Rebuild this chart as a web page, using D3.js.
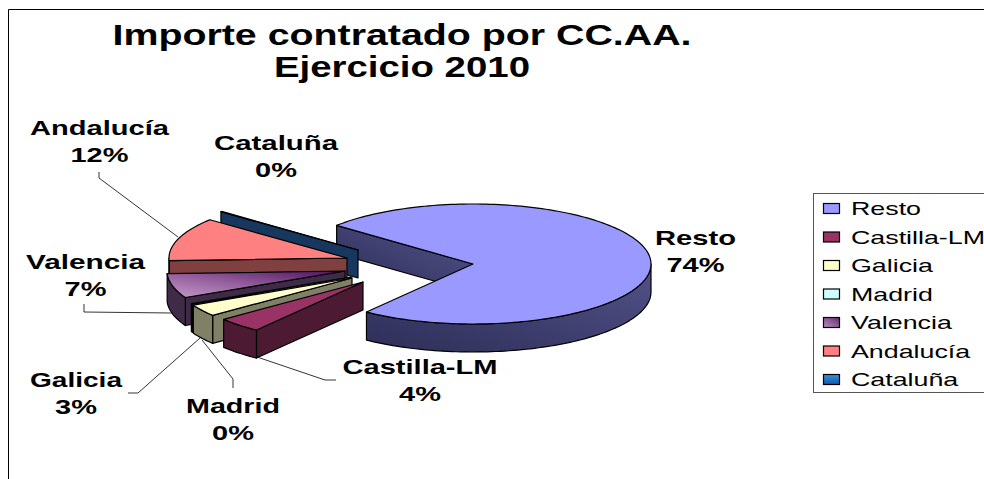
<!DOCTYPE html>
<html><head><meta charset="utf-8">
<script src="https://d3js.org/d3.v7.min.js"></script>
<style>html,body{margin:0;padding:0;background:#fff}svg{display:block}</style>
</head><body><svg id="c" width="984" height="479"></svg>
<script>
const titleLines = ["Importe contratado por CC.AA.", "Ejercicio 2010"];
const categories = ["Resto", "Castilla-LM", "Galicia", "Madrid", "Valencia", "Andalucía", "Cataluña"];
const values = [74.1, 4.1, 3.2, 0.2, 6.6, 11.7, 0.1];
const topColors = ["#9999FF", "#993366", "#FFFFCC", "#CCFFFF", "url(#gVal)", "#FF8080", "#1F6FC4"];
const sideColors = ["url(#gResto)", "#4D1A33", "#808066", "#668080", "#3F2B47", "#804040", "#17375E"];
const legendColors = ["#9999FF", "#993366", "#FFFFCC", "#CCFFFF", "url(#gValL)", "#FF8080", "url(#gCat)"];
const apexX = [473, 363, 352, 351, 345, 347, 358];
const apexY = [264, 282, 278, 277, 271, 258, 250];
const labelX = [695.5, 420, 76, 233, 85.5, 99.5, 276];
const labelY = [245, 374, 387, 413, 269, 135, 150];
const labelW = [81, 155, 92, 94, 119, 139, 124];
const leaderPaths = [null,
  [[257,357],[325,380],[336,380]], [[200,338],[138,393],[128,393]], [[202,340],[233,379],[233,388]],
  [[172,313],[84,312],[84,304]], [[178,237],[99,178],[99,172]], null];

const svg = d3.select("#c");
const RX = 178, RY = 60, DEPTH = 28;
const FONT = "'Liberation Sans',Arial,sans-serif";
const defs = svg.append("defs");
function grad(id, x1, y1, x2, y2, stops) {
  const g = defs.append("linearGradient").attr("id", id).attr("x1", x1).attr("y1", y1).attr("x2", x2).attr("y2", y2);
  stops.forEach(s => g.append("stop").attr("offset", s[0]).attr("stop-color", s[1]));
}
grad("gVal", 0, 1, 1, 0, [[0, "#C49AC8"], [0.45, "#96609E"], [1, "#4D0F5C"]]);
grad("gResto", 0, 1, 1, 0, [[0, "#2E2E58"], [1, "#52528A"]]);
grad("gValL", 0, 1, 1, 0, [[0, "#B890C0"], [1, "#662A70"]]);
grad("gCat", 0, 1, 0, 0, [[0, "#0F5AA8"], [1, "#3B8FDC"]]);

const pie = d3.pie().sort(null).startAngle(-50 * Math.PI / 180).endAngle(310 * Math.PI / 180);
const arcs = pie(values);
const line = d3.line();

function pt(i, a, dz) {
  return [apexX[i] + RX * Math.sin(a), apexY[i] - RY * Math.cos(a) + (dz || 0)];
}
function arcPts(i, a0, a1, dz) {
  const n = Math.max(2, Math.ceil(Math.abs(a1 - a0) * 40));
  return d3.range(n + 1).map(k => pt(i, a0 + (a1 - a0) * k / n, dz));
}
function radial(g, i, a, fill) {
  const o = pt(i, a), b = pt(i, a, DEPTH);
  g.append("path").attr("d", line([o, [apexX[i], apexY[i]], [apexX[i], apexY[i] + DEPTH], b]) + "Z")
    .attr("fill", fill).attr("stroke", "#000").attr("stroke-width", 1.2).attr("stroke-linejoin", "round");
}
const layer = svg.append("g");
layer.append("path").attr("d", "M8.5,479V9.5H984").attr("fill", "none").attr("stroke", "#000").attr("stroke-width", 1);

// painter's order: Resto first, then the pulled-out slices from back to front
[0, 6, 5, 4, 3, 2, 1].forEach(i => {
  const d = arcs[i], g = layer.append("g");
  // only the radial face turned towards the viewer
  if (Math.sin(d.startAngle) < 0) radial(g, i, d.startAngle, sideColors[i]);
  if (Math.sin(d.endAngle) > 0) radial(g, i, d.endAngle, sideColors[i]);
  const lo = Math.PI / 2, hi = 3 * Math.PI / 2;
  const a0 = Math.max(d.startAngle, lo), a1 = Math.min(d.endAngle, hi);
  if (a1 > a0) {
    const top = arcPts(i, a0, a1), bot = arcPts(i, a1, a0, DEPTH);
    g.append("path").attr("d", line(top.concat(bot)) + "Z")
      .attr("fill", sideColors[i]).attr("stroke", "#000").attr("stroke-width", 1.2).attr("stroke-linejoin", "round");
  }
  const rim = arcPts(i, d.startAngle, d.endAngle);
  g.append("path").attr("d", line([[apexX[i], apexY[i]]].concat(rim)) + "Z")
    .attr("fill", topColors[i]).attr("stroke", "#000").attr("stroke-width", 1.2).attr("stroke-linejoin", "round");
});

leaderPaths.forEach(p => {
  if (p) layer.append("path").attr("d", line(p)).attr("fill", "none").attr("stroke", "#000").attr("stroke-width", 0.8);
});

function stretched(x, y, str, size, weight, anchor, width, factor) {
  const t = svg.append("text").attr("x", x).attr("y", y).text(str)
    .attr("font-family", FONT).attr("font-size", size).attr("font-weight", weight)
    .attr("fill", "#000").attr("text-anchor", anchor);
  const w = width || t.node().getComputedTextLength() * factor;
  t.attr("textLength", w).attr("lengthAdjust", "spacingAndGlyphs");
  return t;
}
stretched(402, 45, titleLines[0], 29, "bold", "middle", 579);
stretched(402, 77, titleLines[1], 29, "bold", "middle", 256);

const pct = v => Math.round(v) + "%";
categories.forEach((c, i) => {
  stretched(labelX[i], labelY[i], c, 21, "bold", "middle", labelW[i]);
  stretched(labelX[i], labelY[i] + 26.5, pct(values[i]), 21, "bold", "middle", null, 1.38);
});

const legend = svg.append("g");
legend.append("rect").attr("x", 813.5).attr("y", 193.5).attr("width", 200).attr("height", 199)
  .attr("fill", "#fff").attr("stroke", "#555").attr("stroke-width", 1);
const rowY = d3.scalePoint().domain(categories).range([208, 379]);
categories.forEach((c, i) => {
  legend.append("rect").attr("x", 823.5).attr("y", rowY(c) - 4.5).attr("width", 16).attr("height", 10)
    .attr("fill", legendColors[i]).attr("stroke", "#000").attr("stroke-width", 1.2);
  stretched(851, rowY(c) + 7, c, 19, "normal", "start", null, 1.41);
});
</script></body></html>
